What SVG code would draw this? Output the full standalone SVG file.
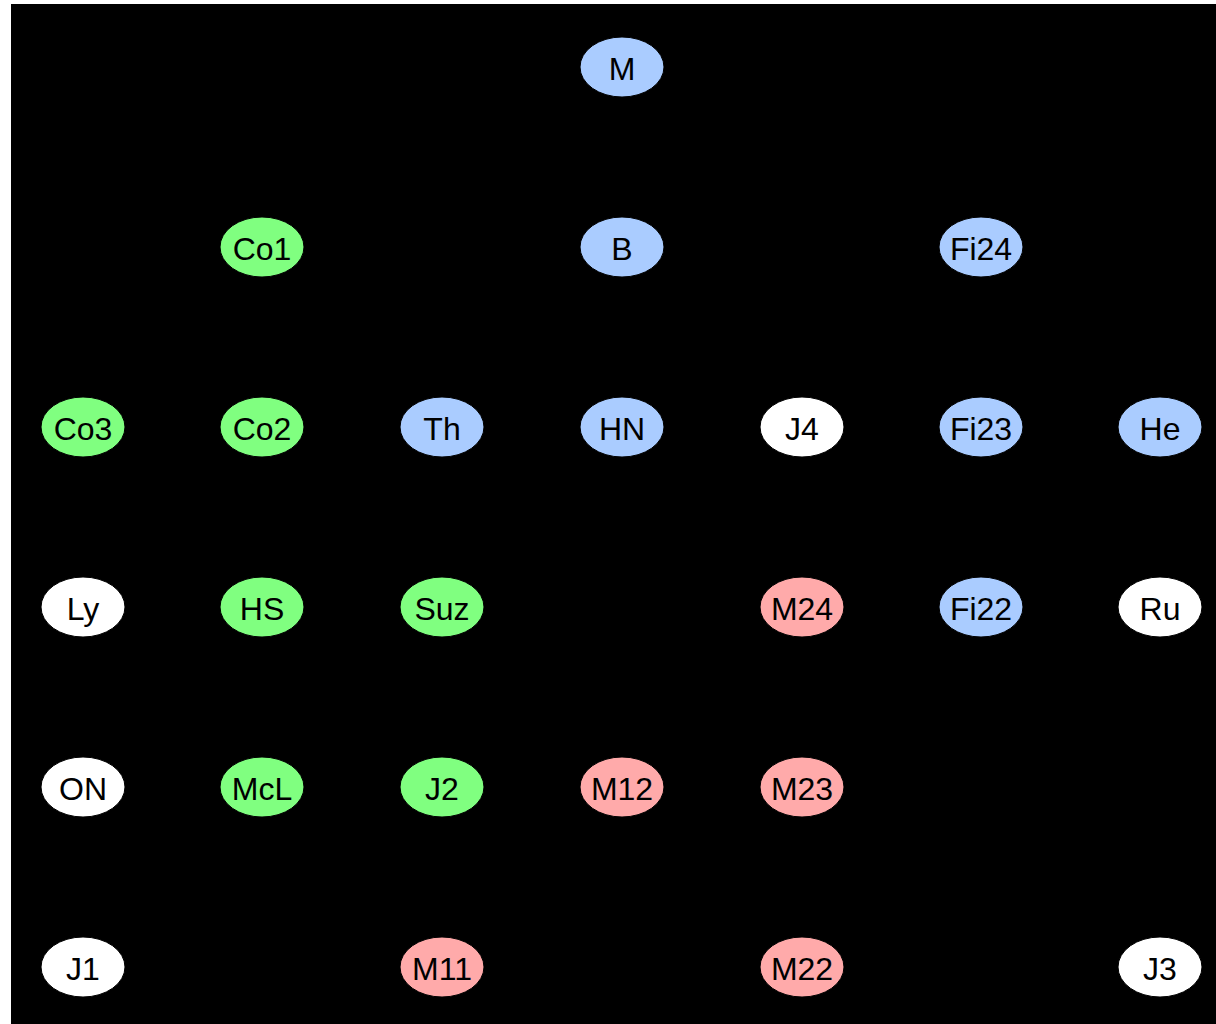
<svg xmlns="http://www.w3.org/2000/svg" width="1216" height="1024" viewBox="0 0 1216 1024">
<style>
.n{stroke:#000;stroke-width:1}
.b{fill:#aaccff}.g{fill:#80ff80}.r{fill:#ffaaaa}.w{fill:#ffffff}
text{font-family:"Liberation Sans",Arial,sans-serif;font-size:32px;fill:#000;text-anchor:middle}
.e line{stroke:#000;stroke-width:2}
</style>
<rect x="0" y="0" width="1216" height="1024" fill="#fff"/>
<rect x="11" y="4" width="1205" height="1020" fill="#000"/>
<g id="connectors" class="e">
<line x1="622" y1="67" x2="622" y2="247"/>
<line x1="622" y1="67" x2="262" y2="247"/>
<line x1="622" y1="67" x2="981" y2="247"/>
<line x1="622" y1="247" x2="262" y2="427"/>
<line x1="622" y1="247" x2="442" y2="427"/>
<line x1="622" y1="247" x2="622" y2="427"/>
<line x1="622" y1="247" x2="981" y2="427"/>
<line x1="262" y1="247" x2="262" y2="427"/>
<line x1="262" y1="247" x2="83" y2="427"/>
<line x1="262" y1="247" x2="442" y2="607"/>
<line x1="981" y1="247" x2="981" y2="427"/>
<line x1="981" y1="247" x2="1160" y2="427"/>
<line x1="981" y1="427" x2="981" y2="607"/>
<line x1="262" y1="427" x2="262" y2="607"/>
<line x1="262" y1="427" x2="262" y2="787"/>
<line x1="83" y1="427" x2="262" y2="787"/>
<line x1="442" y1="607" x2="442" y2="787"/>
<line x1="802" y1="607" x2="802" y2="787"/>
<line x1="802" y1="607" x2="622" y2="787"/>
<line x1="802" y1="787" x2="802" y2="967"/>
<line x1="622" y1="787" x2="442" y2="967"/>
</g>
<g id="M"><ellipse class="n b" cx="622" cy="67" rx="42" ry="30"/><text x="622" y="80">M</text></g>
<g id="Co1"><ellipse class="n g" cx="262" cy="247" rx="42" ry="30"/><text x="262" y="260">Co1</text></g>
<g id="B"><ellipse class="n b" cx="622" cy="247" rx="42" ry="30"/><text x="622" y="260">B</text></g>
<g id="Fi24"><ellipse class="n b" cx="981" cy="247" rx="42" ry="30"/><text x="981" y="260">Fi24</text></g>
<g id="Co3"><ellipse class="n g" cx="83" cy="427" rx="42" ry="30"/><text x="83" y="440">Co3</text></g>
<g id="Co2"><ellipse class="n g" cx="262" cy="427" rx="42" ry="30"/><text x="262" y="440">Co2</text></g>
<g id="Th"><ellipse class="n b" cx="442" cy="427" rx="42" ry="30"/><text x="442" y="440">Th</text></g>
<g id="HN"><ellipse class="n b" cx="622" cy="427" rx="42" ry="30"/><text x="622" y="440">HN</text></g>
<g id="J4"><ellipse class="n w" cx="802" cy="427" rx="42" ry="30"/><text x="802" y="440">J4</text></g>
<g id="Fi23"><ellipse class="n b" cx="981" cy="427" rx="42" ry="30"/><text x="981" y="440">Fi23</text></g>
<g id="He"><ellipse class="n b" cx="1160" cy="427" rx="42" ry="30"/><text x="1160" y="440">He</text></g>
<g id="Ly"><ellipse class="n w" cx="83" cy="607" rx="42" ry="30"/><text x="83" y="620">Ly</text></g>
<g id="HS"><ellipse class="n g" cx="262" cy="607" rx="42" ry="30"/><text x="262" y="620">HS</text></g>
<g id="Suz"><ellipse class="n g" cx="442" cy="607" rx="42" ry="30"/><text x="442" y="620">Suz</text></g>
<g id="M24"><ellipse class="n r" cx="802" cy="607" rx="42" ry="30"/><text x="802" y="620">M24</text></g>
<g id="Fi22"><ellipse class="n b" cx="981" cy="607" rx="42" ry="30"/><text x="981" y="620">Fi22</text></g>
<g id="Ru"><ellipse class="n w" cx="1160" cy="607" rx="42" ry="30"/><text x="1160" y="620">Ru</text></g>
<g id="ON"><ellipse class="n w" cx="83" cy="787" rx="42" ry="30"/><text x="83" y="800">ON</text></g>
<g id="McL"><ellipse class="n g" cx="262" cy="787" rx="42" ry="30"/><text x="262" y="800">McL</text></g>
<g id="J2"><ellipse class="n g" cx="442" cy="787" rx="42" ry="30"/><text x="442" y="800">J2</text></g>
<g id="M12"><ellipse class="n r" cx="622" cy="787" rx="42" ry="30"/><text x="622" y="800">M12</text></g>
<g id="M23"><ellipse class="n r" cx="802" cy="787" rx="42" ry="30"/><text x="802" y="800">M23</text></g>
<g id="J1"><ellipse class="n w" cx="83" cy="967" rx="42" ry="30"/><text x="83" y="980">J1</text></g>
<g id="M11"><ellipse class="n r" cx="442" cy="967" rx="42" ry="30"/><text x="442" y="980">M11</text></g>
<g id="M22"><ellipse class="n r" cx="802" cy="967" rx="42" ry="30"/><text x="802" y="980">M22</text></g>
<g id="J3"><ellipse class="n w" cx="1160" cy="967" rx="42" ry="30"/><text x="1160" y="980">J3</text></g>
</svg>
